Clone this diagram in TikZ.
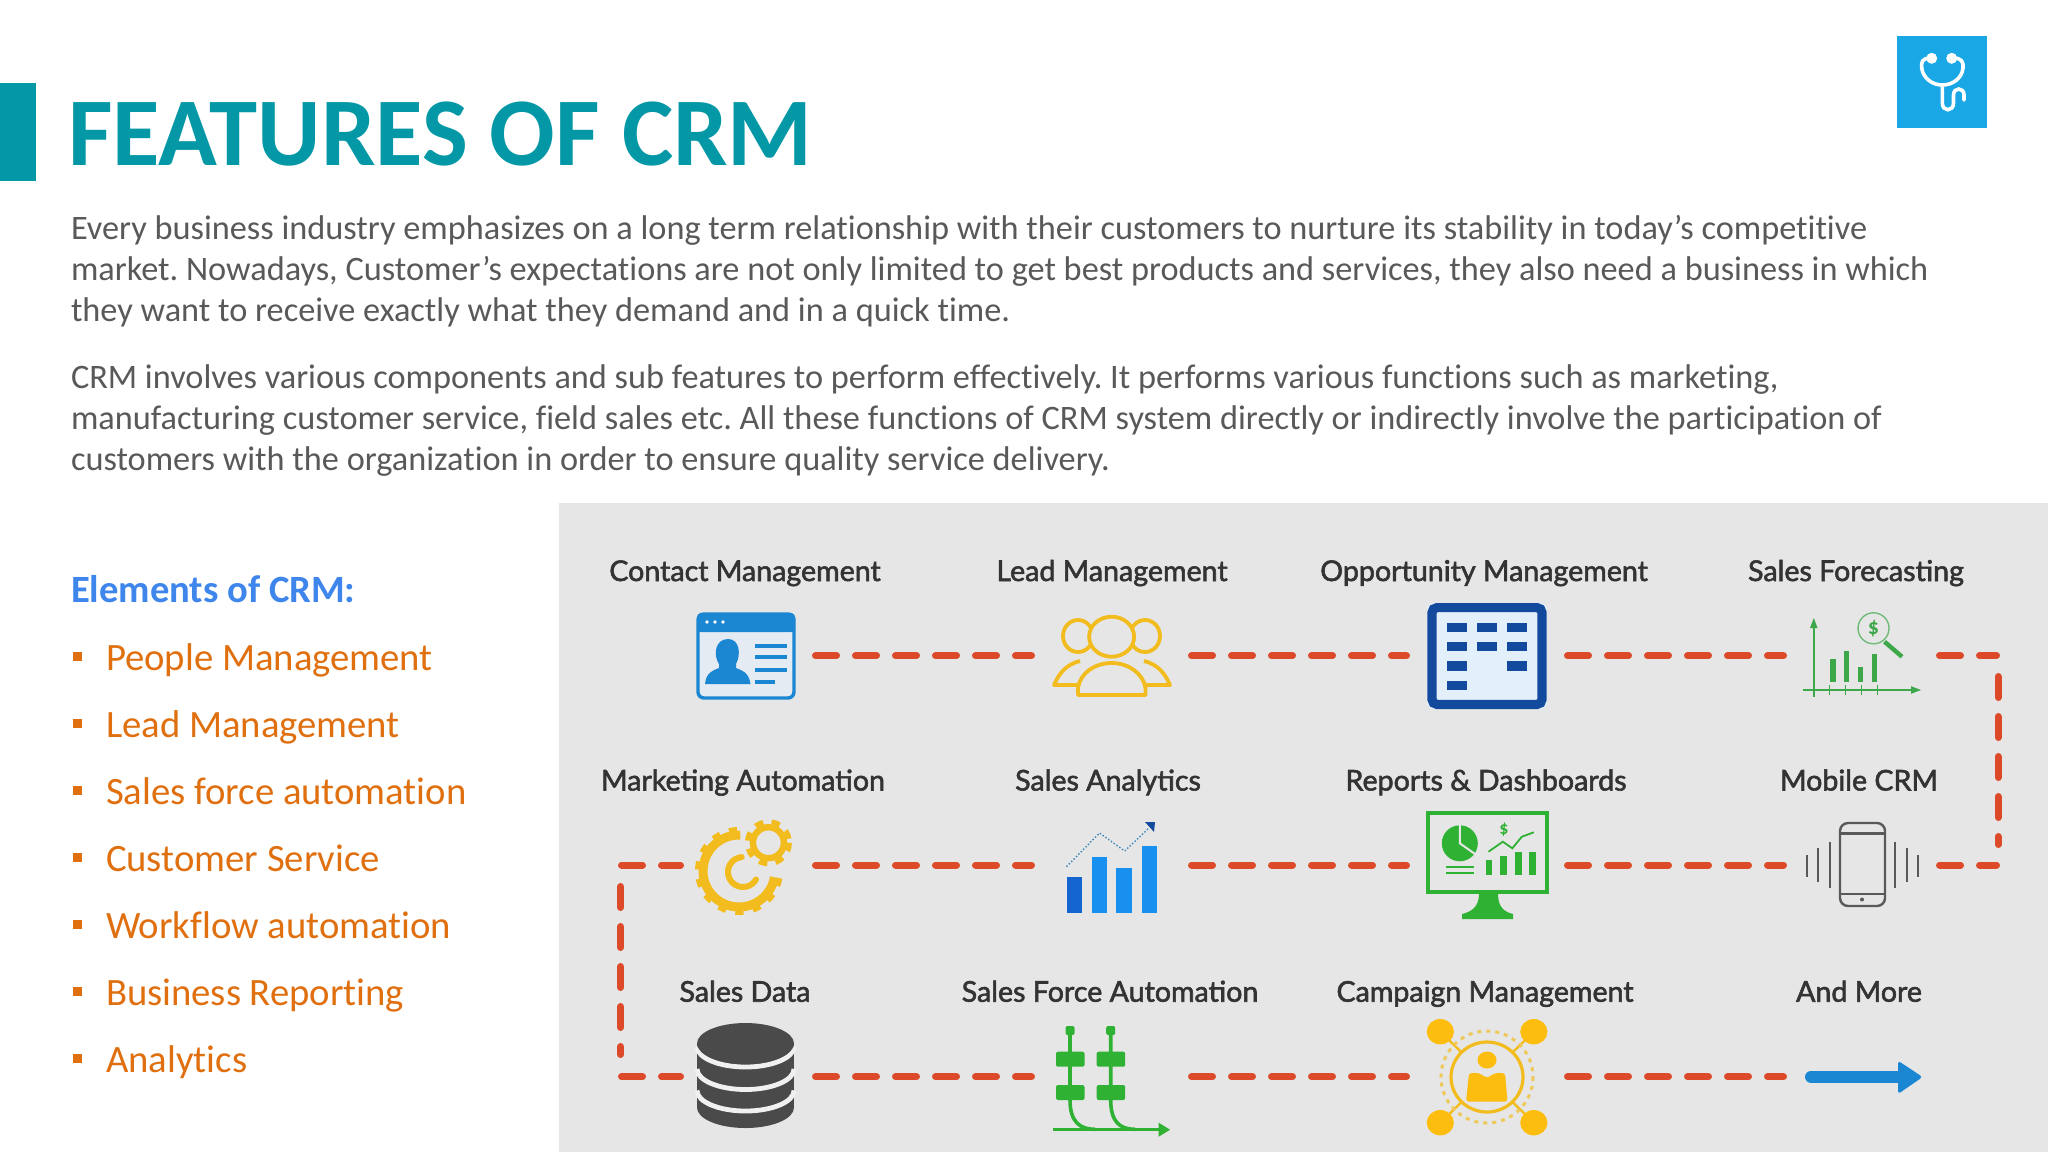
\documentclass[tikz,border=0pt]{standalone}
\usepackage{fontspec}
\setmainfont[Ligatures=NoCommon]{Carlito}
\newfontfamily\labfont[FakeBold=2]{Lato}
\AtBeginDocument{\frenchspacing}
\usetikzlibrary{calc}
\definecolor{teal}{HTML}{0498A6}
\definecolor{bodygray}{HTML}{595959}
\definecolor{listorange}{HTML}{E0700F}
\definecolor{headblue}{HTML}{3F86EC}
\definecolor{panel}{HTML}{E6E6E6}
\definecolor{dashred}{HTML}{DC4A2A}
\definecolor{iconblue}{HTML}{1B87D3}
\definecolor{barblue}{HTML}{1890F0}
\definecolor{barblue2}{HTML}{1565D0}
\definecolor{darkblue}{HTML}{134A9E}
\definecolor{paleblue}{HTML}{E3EFFB}
\definecolor{iconyellow}{HTML}{F2BC1E}
\definecolor{campyellow}{HTML}{FDBD0F}
\definecolor{fgreen}{HTML}{3DA84A}
\definecolor{mgreen}{HTML}{2FB234}
\definecolor{darkgray}{HTML}{4A4A4A}
\definecolor{tileblue}{HTML}{1AA7E6}
\tikzset{
  txt/.style={inner sep=0pt,outer sep=0pt,anchor=base west},
  bodyline/.style={txt,text=bodygray,font=\fontsize{17.15}{20}\selectfont},
  listline/.style={txt,text=listorange,font=\fontsize{19.35}{22}\selectfont},
  lab/.style={inner sep=0pt,outer sep=0pt,anchor=base,text=black!80,font=\labfont\fontsize{14.3}{16}\selectfont},
  icon/.style={inner sep=0pt,outer sep=0pt,minimum height=5pt,draw=none},
  col1/.style={icon,minimum width=64pt},
  col2/.style={icon,minimum width=76.5pt},
  col3/.style={icon,minimum width=77pt},
  col4/.style={icon,minimum width=74.5pt},
  dashline/.style={draw=dashred,line width=3.5pt,line cap=round,dash pattern=on 10.5pt off 9.5pt,shorten <=1.75pt,shorten >=1.75pt},
  bullet/.style={fill=listorange,draw=none},
}
\begin{document}
\begin{tikzpicture}[x=0.5pt,y=-0.5pt]
\useasboundingbox (0,0) rectangle (2048,1152);
\fill[white] (0,0) rectangle (2048,1152);
% header
\fill[teal] (0,82.7) rectangle (36,180.7);
\node[txt,text=teal,font=\bfseries\fontsize{48.5}{52}\selectfont] (title) at (68,165) {FEATURES OF CRM};
\fill[tileblue] (1897.3,36) rectangle (1987.3,127.7);
\begin{scope}[draw=white,line width=1.8pt,line cap=round]
\draw (1931,58) .. controls (1922,58) and (1921,62) .. (1921.7,68) .. controls (1923,78) and (1932,85) .. (1942.3,85) .. controls (1953,85) and (1962,78) .. (1963,68) .. controls (1963.5,62) and (1962,58) .. (1953,58);
\draw (1942.3,85) -- (1942.3,103) .. controls (1942.3,112) and (1953.5,112) .. (1953.5,103) -- (1953.5,95) .. controls (1953.5,87) and (1964,87) .. (1964,95) -- (1964,100);
\end{scope}
\fill[white] (1931.7,58.3) circle [radius=5.5] (1951.7,58.3) circle [radius=5.5];
% body
\node[bodyline] (p1a) at (71,239) {Every business industry emphasizes on a long term relationship with their customers to nurture its stability in today’s competitive};
\node[bodyline] (p1b) at (71,280) {market. Nowadays, Customer’s expectations are not only limited to get best products and services, they also need a business in which};
\node[bodyline] (p1c) at (71,321) {they want to receive exactly what they demand and in a quick time.};
\node[bodyline] (p2a) at (71,388) {CRM involves various components and sub features to perform effectively. It performs various functions such as marketing,};
\node[bodyline] (p2b) at (71,429) {manufacturing customer service, field sales etc. All these functions of CRM system directly or indirectly involve the participation of};
\node[bodyline] (p2c) at (71,470) {customers with the organization in order to ensure quality service delivery.};
% list
\node[txt,text=headblue,font=\bfseries\fontsize{19.3}{22}\selectfont] (elements) at (71,602) {Elements of CRM:};
\foreach \yy/\tt/\nn in {670/People Management/l1,737/Lead Management/l2,804/Sales force automation/l3,871/Customer Service/l4,938/Workflow automation/l5,1005/Business Reporting/l6,1072/Analytics/l7}{
  \fill[bullet] (73,\yy-18) rectangle ++(9,9);
  \node[listline] (\nn) at (106,\yy) {\tt};
}
% panel
\fill[panel] (559,503) rectangle (2048,1152);
% labels
\node[lab] (t11) at (745,581) {Contact Management};
\node[lab] (t12) at (1112,581) {Lead Management};
\node[lab] (t13) at (1484,581) {Opportunity Management};
\node[lab] (t14) at (1856,581) {Sales Forecasting};
\node[lab] (t21) at (743,790.5) {Marketing Automation};
\node[lab] (t22) at (1108,790.5) {Sales Analytics};
\node[lab] (t23) at (1486,790.5) {Reports \& Dashboards};
\node[lab] (t24) at (1859,790.5) {Mobile CRM};
\node[lab] (t31) at (745,1001.7) {Sales Data};
\node[lab] (t32) at (1110,1001.7) {Sales Force Automation};
\node[lab] (t33) at (1485,1001.7) {Campaign Management};
\node[lab] (t34) at (1859,1001.7) {And More};
% anchor nodes of the icons
\node[col1] (contact) at (748,655.7) {};
\node[col2] (lead) at (1111.5,655.7) {};
\node[col3] (opp) at (1487,655.7) {};
\node[col4] (fore) at (1861.5,655.7) {};
\node[col1] (gear) at (748,865) {};
\node[col2] (analytics) at (1111.5,865) {};
\node[col3] (reports) at (1487,865) {};
\node[col4] (mobile) at (1861.5,865) {};
\node[col1] (data) at (748,1076.7) {};
\node[col2] (sfa) at (1111.5,1076.7) {};
\node[col3] (camp) at (1487,1076.7) {};
\node[col4] (more) at (1861.5,1076.7) {};
\coordinate (cR1) at (2000,655.7);
\coordinate (cR2) at (2000,865);
\coordinate (vR1) at (1998,673);
\coordinate (vR2) at (1998,848);
\coordinate (cL2) at (618,865);
\coordinate (cL3) at (618,1076.7);
\coordinate (vL2) at (620.6,883);
\coordinate (vL3) at (620.6,1058);
% connectors
\draw[dashline] (contact.east) -- (lead.west);
\draw[dashline] (lead.east) -- (opp.west);
\draw[dashline] (opp.east) -- (fore.west);
\draw[dashline] (fore.east) -- (cR1);
\draw[dashline] (vR1) -- (vR2);
\draw[dashline] (mobile.east) -- (cR2);
\draw[dashline] (reports.east) -- (mobile.west);
\draw[dashline] (analytics.east) -- (reports.west);
\draw[dashline] (gear.east) -- (analytics.west);
\draw[dashline] (cL2) -- (gear.west);
\draw[dashline] (vL2) -- (vL3);
\draw[dashline] (cL3) -- (data.west);
\draw[dashline] (data.east) -- (sfa.west);
\draw[dashline] (sfa.east) -- (camp.west);
\draw[dashline] (camp.east) -- (more.west);
% contact icon
\fill[paleblue!60!panel,rounded corners=3pt] (697,613) rectangle (795,699);
\draw[iconblue,line width=1.7pt,rounded corners=3pt] (698,614) rectangle (794,698);
\fill[iconblue,rounded corners=2pt] (697,613) rectangle (795,632);
\fill[iconblue] (698,625) rectangle (794,632);
\fill[white] (707,622) circle [radius=1.8] (715,622) circle [radius=1.8] (723,622) circle [radius=1.8];
\fill[iconblue] (705,684) .. controls (706,672) and (714,670) .. (719,668) -- (719,664) .. controls (713,655) and (715,639) .. (728,639) .. controls (740,639) and (741,655) .. (736,664) -- (736,668) .. controls (741,670) and (749,672) .. (750.5,684) -- cycle;
\foreach \yy/\xe in {645.7/787,657/787,669.7/787,681.7/775}{\draw[iconblue,line width=1.9pt] (755,\yy) -- (\xe,\yy);}
% lead icon
\begin{scope}[draw=iconyellow,line width=1.9pt,line join=round]
\draw (1078,636) ellipse [x radius=15,y radius=16];
\draw (1145,636) ellipse [x radius=15,y radius=16];
\draw[fill=panel] (1080,661) .. controls (1064,665) and (1058,676) .. (1054,685) -- (1170,685) .. controls (1166,676) and (1160,665) .. (1144,661);
\draw[fill=panel] (1111.6,636.7) ellipse [x radius=22.5,y radius=20];
\draw[fill=panel] (1078,695) -- (1078,688) .. controls (1080,673) and (1095,663) .. (1111.6,663) .. controls (1128,663) and (1143,673) .. (1145.5,688) -- (1145.5,695) -- cycle;
\end{scope}
% opportunity icon
\fill[paleblue,rounded corners=3pt] (1427.4,603) rectangle (1546.7,709);
\draw[darkblue,line width=4.6pt,rounded corners=2.5pt] (1432,607.6) rectangle (1542,704.4);
\foreach \cx/\cy in {1447/622.7,1477/622.7,1507/622.7,1447/642,1477/642,1507/642,1447/661.3,1507/661.3,1447/680.5}{\fill[darkblue] (\cx,\cy) rectangle ++(20,9.3);}
% forecast icon
\begin{scope}[fgreen,line width=1pt]
\draw (1813.8,696.7) -- (1813.8,625);
\fill (1813.8,618) -- (1817.5,628) -- (1810,628) -- cycle;
\draw (1803,690) -- (1915,690);
\fill (1921,690) -- (1911,693.8) -- (1911,686.2) -- cycle;
\foreach \xx in {1829.6,1845.3,1861.6,1877.3}{\draw[line width=0.6pt] (\xx,685) -- (\xx,695);}
\foreach \xx/\yy in {1833/659,1846.3/651,1860.6/666.7,1874.4/654}{\fill (\xx-2.8,\yy) rectangle (\xx+2.8,681.7);}
\draw[line width=0.7pt,draw=fgreen!70!panel] (1873.5,628.3) circle [radius=15.5];
\draw[line width=2.2pt] (1884.5,641.7) -- (1902,656.7);
\node[font=\bfseries\fontsize{11}{12}\selectfont,text=fgreen,inner sep=0pt] (dollar1) at (1873.5,628.3) {\$};
\end{scope}
% gear icon
\begin{scope}[iconyellow]
\draw[line width=4.5pt] ([shift={(10:36)}]739,871) arc [start angle=10,end angle=272,radius=36];
\draw[line width=3pt,dash pattern=on 4pt off 4.8pt] ([shift={(10:41)}]739,871) arc [start angle=10,end angle=272,radius=41];
\draw[line width=3pt,line cap=round] ([shift={(30:15)}]743,872) arc [start angle=30,end angle=265,radius=15];
\draw[panel,line width=2pt,fill=panel] (768.4,842.7) circle [radius=21];
\draw[line width=3.2pt] (768.4,842.7) circle [radius=15.5];
\draw[line width=2.5pt,dash pattern=on 4.3pt off 4.2pt] (768.4,842.7) circle [radius=21];
\end{scope}
% analytics icon
\fill[barblue2] (1066.5,877) rectangle (1082,912.7);
\fill[barblue] (1091.8,857) rectangle (1106.8,912.7);
\fill[barblue] (1116.4,868) rectangle (1132,912.7);
\fill[barblue] (1142,846) rectangle (1157,912.7);
\draw[line width=0.7pt,densely dotted,draw=iconblue!70!gray] (1066.5,866.7) -- (1099.5,833) -- (1124.7,851) -- (1149,828);
\fill[darkblue] (1145,822) -- (1155,822) -- (1154,832) -- cycle;
% reports icon
\begin{scope}[mgreen]
\draw[line width=2pt] (1428.4,812.7) rectangle (1547,892);
\fill (1479,894) -- (1498,894) .. controls (1498,908) and (1505,912) .. (1513,914) -- (1513,919) -- (1462,919) -- (1462,914) .. controls (1470,912) and (1479,908) .. (1479,894) -- cycle;
\fill (1459.8,843.3) circle [radius=18];
\draw[panel,line width=1pt] (1459.8,825) -- (1459.8,843.3) -- (1475,854);
\draw[line width=1pt] (1445.5,867.3) -- (1474,867.3) (1445.5,873.3) -- (1474,873.3);
\foreach \xa/\xb/\yy in {1486/1492/860,1500.4/1506.6/856,1514.7/1522/851.7,1529/1536/851.7}{\fill (\xa,\yy) rectangle (\xb,875);}
\draw[line width=0.9pt] (1488.5,851.7) -- (1502.8,841.7) -- (1512.3,848.3) -- (1521.8,836.7) -- (1533.8,832.3);
\node[font=\bfseries\fontsize{9}{10}\selectfont,text=mgreen,inner sep=0pt] (dollar2) at (1504,830) {\$};
\end{scope}
% mobile icon
\begin{scope}[draw=black!65,line width=1.2pt]
\draw[rounded corners=4pt] (1840,823) rectangle (1885,906);
\draw (1840,833.3) -- (1885,833.3) (1840,894) -- (1885,894);
\fill[black!65] (1862,899.5) circle [radius=2];
\foreach \xx/\ya/\yb in {1806.7/855/877,1818/848/881.7,1829.6/841.7/888,1895.4/841.7/888,1907/848/881.7,1918/855/877}{\draw[line width=1pt] (\xx,\ya) -- (\xx,\yb);}
\end{scope}
% database icon
\fill[darkgray] (697,1043.5) rectangle (794,1107.5);
\fill[darkgray] (745.5,1107.5) ellipse [x radius=48.5,y radius=20.5];
\foreach \cc in {1046.5,1069,1090.5}{\draw[panel!60!white,line width=2.4pt] (697,\cc) arc [start angle=180,end angle=0,x radius=48.5,y radius=20.5];}
\fill[darkgray] (745.5,1043.5) ellipse [x radius=48.5,y radius=20.5];
% sales force automation icon
\begin{scope}[mgreen]
\draw[line width=1.8pt] (1070,1030) -- (1070,1100) .. controls (1070,1122) and (1080,1129.3) .. (1095,1129.3);
\draw[line width=1.8pt] (1110.7,1030) -- (1110.7,1100) .. controls (1110.7,1122) and (1120,1129.3) .. (1135,1129.3);
\draw[line width=1.8pt] (1053,1129.3) -- (1162,1129.3);
\fill (1170,1129.7) -- (1158.7,1122.7) -- (1158.7,1136.7) -- cycle;
\foreach \xx in {1070,1110.7}{
 \fill[rounded corners=1pt] (\xx-4.5,1026) rectangle (\xx+4.5,1035);
 \fill[rounded corners=1pt] (\xx-14,1051.7) rectangle (\xx+14.5,1066.7);
 \fill[rounded corners=1pt] (\xx-14,1085) rectangle (\xx+14.5,1100);
}
\end{scope}
% campaign icon
\begin{scope}[campyellow]
\draw[iconyellow,line width=1.2pt] (1440.3,1031.7) -- (1533.8,1122.7) (1533.8,1031.7) -- (1440.3,1122.7);
\draw[iconyellow,fill=panel,line width=1.6pt] (1487,1077) ellipse [x radius=36,y radius=35];
\draw[iconyellow!70!panel,line width=1.5pt,dash pattern=on 2pt off 2.5pt] (1487,1077) circle [radius=46];
\fill (1440.3,1031.7) ellipse [x radius=13.6,y radius=12.7] (1533.8,1031.7) ellipse [x radius=13.6,y radius=12.7] (1440.3,1122.7) ellipse [x radius=13.6,y radius=12.7] (1533.8,1122.7) ellipse [x radius=13.6,y radius=12.7];
\fill (1487,1060) ellipse [x radius=9.5,y radius=8.5];
\fill[rounded corners=1.5pt] (1469,1073) -- (1479,1073) -- (1487,1078) -- (1495,1073) -- (1505,1073) -- (1507.5,1101.7) -- (1466,1101.7) -- cycle;
\end{scope}
% and-more arrow
\draw[iconblue,line width=6pt,line cap=round] (1811,1076.7) -- (1905,1076.7);
\fill[iconblue,rounded corners=1.5pt] (1898,1060.7) -- (1922.6,1077) -- (1898,1094) -- cycle;
\end{tikzpicture}
\end{document}
